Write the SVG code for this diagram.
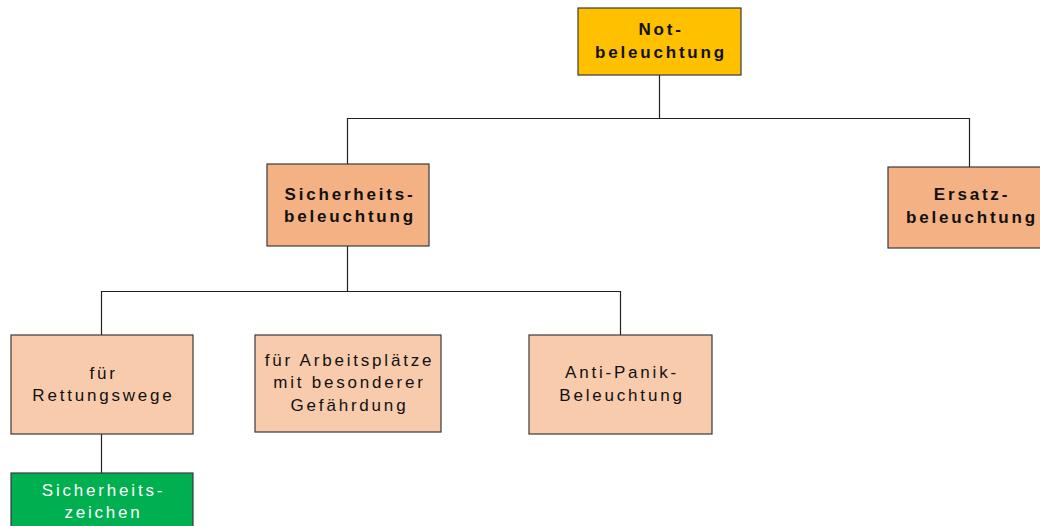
<svg xmlns="http://www.w3.org/2000/svg" width="1040" height="526" viewBox="0 0 1040 526">
<style>
.box{stroke:#3a3a3a;stroke-width:1.2}
.t{font-family:"Liberation Sans",Arial,sans-serif;font-size:17px;letter-spacing:2.8px;text-anchor:middle;fill:#111}
.b{font-weight:bold}
.w{fill:#ffffff}
.c{stroke:#222;stroke-width:1.2;fill:none}
</style>
<rect width="1040" height="526" fill="#ffffff"/>
<g id="connectors">
<path class="c" d="M659.5 75V118.5M347.5 164V118.5H969.5V167"/>
<path class="c" d="M347.5 246V291.5M101.5 335V291.5H620.5V335"/>
<path class="c" d="M101.5 434V473"/>
</g>
<g id="notbeleuchtung">
<rect class="box" x="578" y="8" width="163" height="67" fill="#FFC000"/>
<text class="t b" x="661" y="35">Not-</text>
<text class="t b" x="661" y="58">beleuchtung</text>
</g>
<g id="sicherheitsbeleuchtung">
<rect class="box" x="267" y="164" width="162" height="82" fill="#F4B183"/>
<text class="t b" x="350" y="200">Sicherheits-</text>
<text class="t b" x="350" y="222">beleuchtung</text>
</g>
<g id="ersatzbeleuchtung">
<rect class="box" x="888" y="167" width="163" height="81" fill="#F4B183"/>
<text class="t b" x="972" y="200">Ersatz-</text>
<text class="t b" x="972" y="223">beleuchtung</text>
</g>
<g id="rettungswege">
<rect class="box" x="11" y="335" width="182" height="99" fill="#F8CBAD"/>
<text class="t" x="103.5" y="379">für</text>
<text class="t" x="103.5" y="401">Rettungswege</text>
</g>
<g id="arbeitsplaetze">
<rect class="box" x="255" y="335" width="186" height="97" fill="#F8CBAD"/>
<text class="t" x="349.5" y="366">für Arbeitsplätze</text>
<text class="t" x="349.5" y="388">mit besonderer</text>
<text class="t" x="349.5" y="411">Gefährdung</text>
</g>
<g id="antipanik">
<rect class="box" x="529" y="335" width="183" height="99" fill="#F8CBAD"/>
<text class="t" x="622" y="378">Anti-Panik-</text>
<text class="t" x="622" y="401">Beleuchtung</text>
</g>
<g id="sicherheitszeichen">
<rect class="box" x="11" y="473" width="182" height="60" fill="#00B050"/>
<text class="t w" x="103.5" y="496">Sicherheits-</text>
<text class="t w" x="103.5" y="518">zeichen</text>
</g>
</svg>
